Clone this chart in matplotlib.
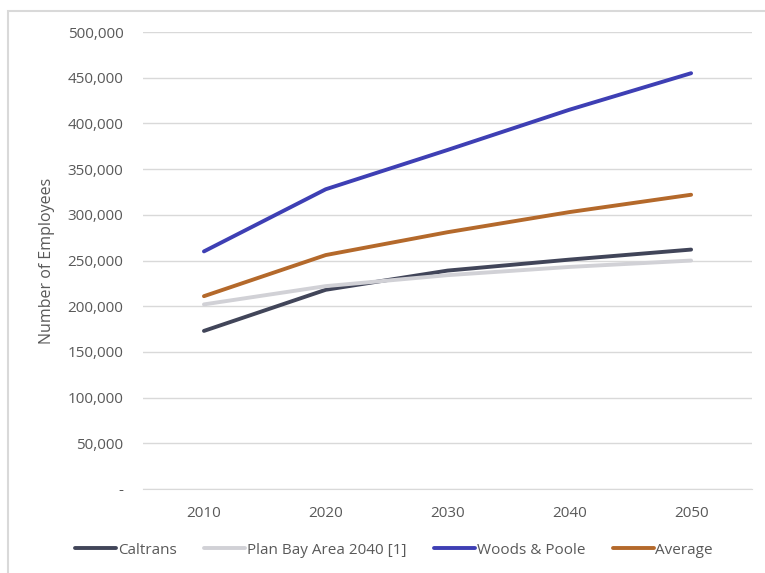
import matplotlib
matplotlib.use("Agg")
import matplotlib.pyplot as plt
from matplotlib.patches import Rectangle
from matplotlib.ticker import FuncFormatter

years = ["2010", "2020", "2030", "2040", "2050"]
caltrans = [173000, 218000, 239000, 251000, 262000]
plan_bay_area = [202000, 222000, 234000, 243000, 250000]
woods_poole = [260000, 328000, 371000, 415000, 455000]
average = [211000, 256000, 281000, 303000, 322000]

SERIES = [
    ("Caltrans", caltrans, "#414559"),
    ("Plan Bay Area 2040 [1]", plan_bay_area, "#D1D1D6"),
    ("Woods & Poole", woods_poole, "#3E3FB4"),
    ("Average", average, "#B4692B"),
]
TXT = "#595959"
GRID = "#D9D9D9"

plt.rcParams["font.family"] = ["Open Sans", "DejaVu Sans"]

fig = plt.figure(figsize=(7.65, 5.73), dpi=100)
ax = fig.add_axes([0.187, 0.1466, 0.796, 0.7974])

xs = range(len(years))
for name, vals, col in SERIES:
    ax.plot(xs, vals, color=col, lw=2.8, solid_capstyle="round", label=name, zorder=3)

ax.set_xlim(-0.5, len(years) - 0.5)
ax.set_ylim(0, 500000)
ax.set_yticks(range(0, 500001, 50000))
ax.yaxis.set_major_formatter(FuncFormatter(lambda v, _: "-" if v == 0 else f"{int(v):,}"))
ax.set_xticks(list(xs))
ax.set_xticklabels(years)
ax.tick_params(length=0, labelsize=11, colors=TXT)
ax.tick_params(axis="y", pad=14)
ax.tick_params(axis="x", pad=12)
ax.grid(axis="y", color=GRID, lw=1)
ax.set_axisbelow(True)
for k, sp in ax.spines.items():
    sp.set_visible(k == "bottom")
ax.spines["bottom"].set_color(GRID)
ax.set_ylabel("Number of Employees", fontsize=11.5, color=TXT, labelpad=9)

fig.legend(loc="center", bbox_to_anchor=(0.515, 0.04), ncol=4, frameon=False,
           fontsize=11, handlelength=2.7, handletextpad=0.1, columnspacing=1.8,
           labelcolor=TXT)

# chart frame: only the top and left edges fall inside the canvas
fig.patches.append(Rectangle((7.5 / 765, -6 / 573), 775 / 765, 568 / 573,
                             transform=fig.transFigure, fill=False, ec="#D9D9D9", lw=1.5))

fig.savefig("out.png", facecolor="white")
